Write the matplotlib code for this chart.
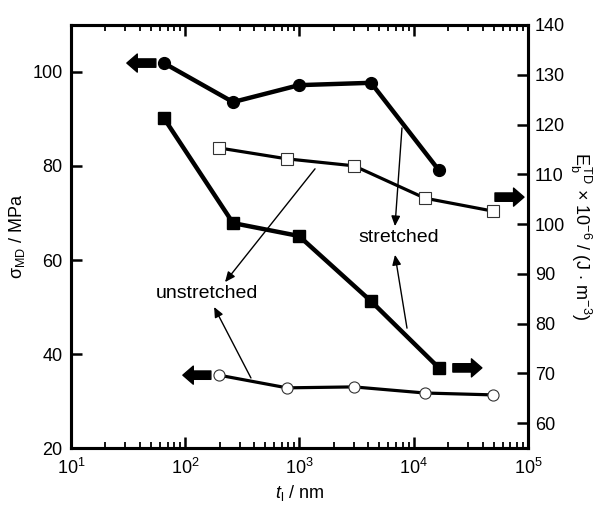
import matplotlib
matplotlib.use("Agg")
import matplotlib.pyplot as plt
import matplotlib.transforms as mtransforms
import numpy as np

plt.rcParams['font.family'] = ['Liberation Sans', 'DejaVu Sans']
plt.rcParams['mathtext.fontset'] = 'custom'
plt.rcParams['mathtext.rm'] = 'Liberation Sans'
plt.rcParams['mathtext.it'] = 'Liberation Sans:italic'

# stretched, left axis (filled circles)
t_st_sigma = [65, 262, 990, 4230, 16600]
sigma_st = [101.9, 93.6, 97.2, 97.7, 79.1]
# stretched, right axis (filled squares)
t_st_E = [65, 262, 990, 4230, 16600]
E_st = [121.3, 100.2, 97.6, 84.5, 71.1]
# unstretched, right axis (open squares)
t_un_E = [197, 778, 3000, 12540, 49400]
E_un = [115.3, 113.1, 111.7, 105.2, 102.6]
# unstretched, left axis (open circles)
t_un_sigma = [197, 778, 3000, 12540, 49400]
sigma_un = [35.5, 32.8, 33.0, 31.7, 31.3]

fig = plt.figure(figsize=(6.03, 5.08), dpi=100)
ax = fig.add_axes([0.1177, 0.1181, 0.8756 - 0.1177, 0.9508 - 0.1181])
ax2 = ax.twinx()

ax.plot(t_st_sigma, sigma_st, '-o', color='black', lw=3.2, ms=8.5, zorder=3)
ax.plot(t_un_sigma, sigma_un, '-o', color='black', lw=2.3, ms=8.0,
        mfc='white', mec='#333333', mew=0.8, zorder=3)
ax2.plot(t_st_E, E_st, '-s', color='black', lw=3.2, ms=9.0, zorder=3)
ax2.plot(t_un_E, E_un, '-s', color='black', lw=2.3, ms=8.0,
         mfc='white', mec='#333333', mew=0.8, zorder=3)

ax.set_xscale('log')
ax.set_xlim(10, 1e5)
ax.set_ylim(20, 110)
ax2.set_ylim(55, 140)
ax.set_yticks([20, 40, 60, 80, 100])
ax2.set_yticks([60, 70, 80, 90, 100, 110, 120, 130, 140])

for a in (ax, ax2):
    for s in a.spines.values():
        s.set_linewidth(2.2)
ax.tick_params(axis='x', which='major', direction='in', length=8, width=1.8,
               top=True, labelsize=13, pad=7)
ax.tick_params(axis='x', which='minor', direction='in', length=4.5, width=1.3, top=True)
ax.tick_params(axis='y', which='major', direction='in', length=8, width=1.8,
               labelsize=13, pad=6)
ax2.tick_params(axis='y', which='major', direction='in', length=8, width=1.8,
                labelsize=13, pad=5)

ax.set_xlabel(r'$t_\mathrm{l}$ / nm', fontsize=13)
ax.set_ylabel(r'σ$_\mathrm{MD}$ / MPa', fontsize=13, labelpad=4)
ax2.set_ylabel(r'$\mathrm{E_b^{\,TD}}$ $\times$ 10$^{-6}$ / (J $\cdot$ m$^{-3}$)',
               fontsize=13, rotation=270, labelpad=20)


def block_arrow(axis, x, y, dx0, dx1, dy=0):
    # arrow drawn from offset dx0 (tail) to dx1 (tip), in pixels relative to a data point
    tail = mtransforms.offset_copy(axis.transData, fig=fig, x=dx0, y=dy, units='dots')
    tip = mtransforms.offset_copy(axis.transData, fig=fig, x=dx1, y=dy, units='dots')
    axis.annotate('', xy=(x, y), xycoords=tip, xytext=(x, y), textcoords=tail,
                  arrowprops=dict(arrowstyle='simple,head_length=0.75,head_width=1.3,tail_width=0.6',
                                  mutation_scale=10, fc='black', ec='black',
                                  shrinkA=0, shrinkB=0), zorder=4)


block_arrow(ax, t_st_sigma[0], sigma_st[0], -8, -37)
block_arrow(ax, t_un_sigma[0], sigma_un[0], -8, -36)
block_arrow(ax2, t_st_E[-1], E_st[-1], 14, 43)
block_arrow(ax2, t_un_E[-1], E_un[-1], 2, 31, dy=14)

ax.text(7430, 64.7, 'stretched', fontsize=14, ha='center', va='center')
ax.text(155, 52.8, 'unstretched', fontsize=14, ha='center', va='center')

thin = dict(arrowstyle='-|>,head_length=0.5,head_width=0.22', mutation_scale=12,
            color='black', lw=1.0, shrinkA=0, shrinkB=0)
ax.annotate('', xy=(6855, 67.2), xytext=(7890, 88.1), arrowprops=thin)
ax.annotate('', xy=(6855, 61.1), xytext=(8730, 45.5), arrowprops=thin)
ax.annotate('', xy=(223, 55.3), xytext=(1368, 79.4), arrowprops=thin)
ax.annotate('', xy=(179, 50.0), xytext=(376, 34.9), arrowprops=thin)

fig.savefig('out.png', dpi=100)
